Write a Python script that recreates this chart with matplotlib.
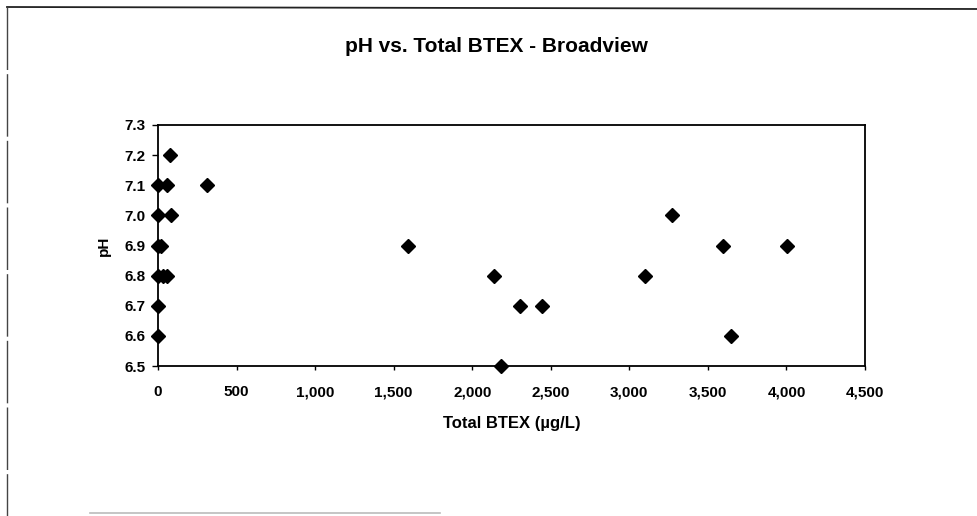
import matplotlib.pyplot as plt
from matplotlib.lines import Line2D
from matplotlib.ticker import FuncFormatter

# data: Total BTEX (ug/L) and pH
btex = [0, 0, 0, 0, 0, 0, 20, 30, 57, 57, 75, 83, 310,
        1590, 2140, 2185, 2305, 2445, 3100, 3270, 3598, 3647, 4002]
ph = [7.1, 7.0, 6.9, 6.8, 6.7, 6.6, 6.9, 6.8, 6.8, 7.1, 7.2, 7.0, 7.1,
      6.9, 6.8, 6.5, 6.7, 6.7, 6.8, 7.0, 6.9, 6.6, 6.9]

x_ticks = [0, 500, 1000, 1500, 2000, 2500, 3000, 3500, 4000, 4500]
y_ticks = [6.5, 6.6, 6.7, 6.8, 6.9, 7.0, 7.1, 7.2, 7.3]

plt.rcParams['font.family'] = ['Liberation Sans', 'DejaVu Sans']
plt.rcParams['font.weight'] = 'bold'

fig = plt.figure(figsize=(9.77, 5.16), dpi=100)
fig.patch.set_facecolor('white')

# axes placed in pixels: left 158, right 865, top 125, bottom 366
W, H = 977, 516
ax = fig.add_axes([158 / W, 1 - 366 / H, (865 - 158) / W, (366 - 125) / H])

ax.plot(btex, ph, linestyle='none', marker='D', markersize=7,
        color='black', clip_on=False)

ax.set_xlim(0, 4500)
ax.set_ylim(6.5, 7.3)
ax.set_xticks(x_ticks)
ax.set_yticks(y_ticks)
ax.xaxis.set_major_formatter(FuncFormatter(lambda v, p: f'{v:,.0f}'))
ax.yaxis.set_major_formatter(FuncFormatter(lambda v, p: f'{v:.1f}'))
ax.tick_params(axis='both', labelsize=11, width=1, color='black')
ax.tick_params(axis='x', length=3, pad=11)
ax.tick_params(axis='y', length=4, pad=5)
for lbl in ax.get_xticklabels() + ax.get_yticklabels():
    lbl.set_fontweight('bold')
for sp in ax.spines.values():
    sp.set_linewidth(1.3)
    sp.set_color('black')

ax.set_xlabel('Total BTEX (µg/L)', fontsize=12, fontweight='bold', labelpad=12)
ax.set_ylabel('pH', fontsize=11, fontweight='bold', labelpad=10)

fig.text(496 / W, 1 - 47 / H, 'pH vs. Total BTEX - Broadview', ha='center',
         va='center', fontsize=15, fontweight='bold')

# scanned page border
fig.add_artist(Line2D([7 / W, 1], [1 - 7 / H, 1 - 9 / H], color='#222222',
                      linewidth=1.3, transform=fig.transFigure))
fig.add_artist(Line2D([7 / W, 7 / W], [1 - 7 / H, 0], color='#444444',
                      linewidth=1, linestyle=(0, (45, 3)),
                      transform=fig.transFigure))
fig.add_artist(Line2D([90 / W, 440 / W], [1 - 513 / H, 1 - 513 / H],
                      color='#bbbbbb', linewidth=1.2,
                      transform=fig.transFigure))

fig.savefig('out.png', dpi=100)
